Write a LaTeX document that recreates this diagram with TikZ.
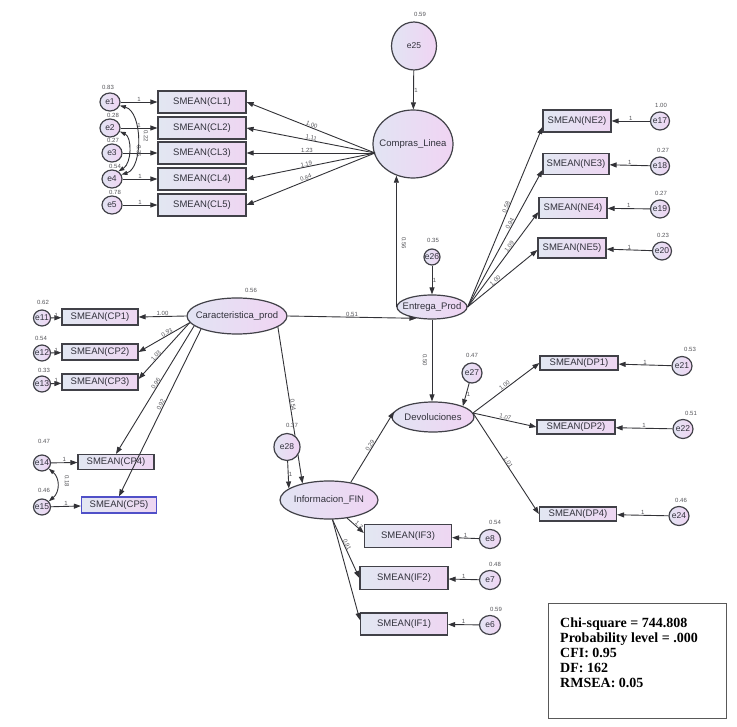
\documentclass[tikz,border=0pt]{standalone}
\usepackage{fontspec}
\setmainfont{Liberation Sans}
\newfontfamily\tnr{Liberation Serif}
\usetikzlibrary{arrows.meta,shapes.geometric,calc}
\definecolor{bord}{RGB}{65,65,72}
\definecolor{lineC}{RGB}{50,50,55}
\definecolor{boxL}{RGB}{226,231,242}
\definecolor{boxR}{RGB}{238,214,242}
\definecolor{latL}{RGB}{226,228,243}
\definecolor{latR}{RGB}{240,212,243}
\definecolor{txt}{RGB}{50,50,60}
\definecolor{labC}{RGB}{85,85,90}
\definecolor{blueB}{RGB}{80,80,200}
\begin{document}
\begin{tikzpicture}[x=1pt,y=-1pt,
  obs/.style={rectangle, draw=bord, line width=1.2pt, left color=boxL, right color=boxR, inner sep=1pt, text=txt, font=\fontsize{9.5}{10}\selectfont},
  lat/.style={ellipse, draw=bord, line width=1.2pt, left color=latL, right color=latR, inner sep=0pt},
  lt/.style={text=txt, font=\fontsize{9.5}{10}\selectfont, inner sep=0pt},
  err/.style={ellipse, draw=bord, line width=1.2pt, left color=latL, right color=latR, inner sep=0pt},
  et/.style={text=txt, font=\fontsize{8.5}{9}\selectfont, inner sep=0pt},
  arr/.style={draw=lineC, line width=0.9pt, -{Triangle[length=7pt,width=5pt]}},
  cov/.style={draw=lineC, line width=0.9pt, {Triangle[length=6pt,width=4pt]}-{Triangle[length=6pt,width=4pt]}},
  lab/.style={text=labC, font=\fontsize{6}{6}\selectfont, inner sep=0.3pt},
  stat/.style={anchor=base west, inner sep=0pt, font=\tnr\bfseries\fontsize{14}{15}\selectfont, text=black},
]
\fill[white] (0,0) rectangle (737,727);
\useasboundingbox (0,0) rectangle (737,727);

% ---------- Compras_Linea block ----------
\node[lat, minimum width=80pt, minimum height=68pt] (cl) at (413,144) {};
\node[lt] (clt) at (cl) {Compras\_Linea};
\node[err, minimum width=45pt, minimum height=48pt, label={[et]center:e25}] (e25) at (414,46) {};
\node[lab] (v25) at (420,14) {0.59};
\draw[arr] (e25) -- node[lab, right, pos=0.5] {1} (cl);

\foreach \i/\y in {1/102,2/128,3/153,4/179,5/205}{
  \node[obs, minimum width=88pt, minimum height=22pt] (cl\i) at (202,\y) {SMEAN(CL\i)};
}
\node[err, minimum width=20pt, minimum height=18pt, label={[et]center:e1}] (e1) at (110,102) {};
\node[err, minimum width=20pt, minimum height=18pt, label={[et]center:e2}] (e2) at (110,128) {};
\node[err, minimum width=20pt, minimum height=18pt, label={[et]center:e3}] (e3) at (112,153) {};
\node[err, minimum width=20pt, minimum height=18pt, label={[et]center:e4}] (e4) at (112,179) {};
\node[err, minimum width=20pt, minimum height=18pt, label={[et]center:e5}] (e5) at (112,205) {};
\node[lab] (v1) at (108,87) {0.83};
\node[lab] (v2) at (113,115) {0.28};
\node[lab] (v3) at (113,140) {0.27};
\node[lab] (v4) at (115,166) {0.54};
\node[lab] (v5) at (115,192) {0.78};
\draw[arr] (e1) -- node[lab, above] {1} (cl1);
\draw[arr] (e2) -- node[lab, above] {1} (cl2);
\draw[arr] (e3) -- (cl3);
\draw[arr] (e4) -- node[lab, above] {1} (cl4);
\draw[arr] (e5) -- node[lab, above] {1} (cl5);
\draw[cov] (e1.-20) .. controls (143,112) and (143,168) .. (e4.25);
\draw[cov] (e2.-20) .. controls (132,137) and (132,163) .. (e4.50);
\node[lab, rotate=-90] (c14) at (146,136) {0.22};
\node[lab, rotate=-90] (c24) at (139,151) {0.35};

\coordinate (clsrc) at (375,153);
\draw[arr] (clsrc) -- node[lab, sloped, above, pos=0.5] {1.00} (cl1.east);
\draw[arr] (clsrc) -- node[lab, sloped, above, pos=0.5] {1.11} (cl2.east);
\draw[arr] (clsrc) -- node[lab, sloped, above, pos=0.53] {1.23} (cl3.east);
\draw[arr] (clsrc) -- node[lab, sloped, above, pos=0.53] {1.19} (cl4.east);
\draw[arr] (clsrc) -- node[lab, sloped, above, pos=0.53] {0.84} (cl5.east);

% ---------- Entrega_Prod block ----------
\node[lat, minimum width=70pt, minimum height=24pt] (ep) at (432,307) {};
\node[lt] (ept) at (ep) {Entrega\_Prod};
\node[err, minimum width=16pt, minimum height=16pt, label={[et]center:e26}] (e26) at (432,257) {};
\node[lab] (v26) at (433,240) {0.35};
\draw[arr] (e26) -- node[lab, right, pos=0.5] {1} (ep);
\draw[arr] (ep.west) -- (ep.west |- cl.-117);
\node[lab, rotate=-90] (l56) at (404,243) {0.56};

\node[obs, minimum width=68pt, minimum height=22pt] (ne2) at (577,121) {SMEAN(NE2)};
\node[obs, minimum width=66pt, minimum height=21pt] (ne3) at (576,164) {SMEAN(NE3)};
\node[obs, minimum width=68pt, minimum height=21pt] (ne4) at (573,208) {SMEAN(NE4)};
\node[obs, minimum width=68pt, minimum height=20pt] (ne5) at (572,248) {SMEAN(NE5)};
\draw[arr] (ep.east) -- node[lab, sloped, above, pos=0.55] {0.58} ([yshift=-6pt]ne2.west);
\draw[arr] (ep.east) -- node[lab, sloped, above, pos=0.6] {0.94} ([yshift=-6pt]ne3.west);
\draw[arr] (ep.east) -- node[lab, sloped, above, pos=0.62] {1.09} ([yshift=-4pt]ne4.west);
\draw[arr] (ep.east) -- node[lab, sloped, above, pos=0.42] {1.00} ([yshift=-2pt]ne5.west);
\node[err, minimum width=19pt, minimum height=18pt, label={[et]center:e17}] (e17) at (660,121) {};
\node[err, minimum width=19pt, minimum height=18pt, label={[et]center:e18}] (e18) at (660,166) {};
\node[err, minimum width=19pt, minimum height=18pt, label={[et]center:e19}] (e19) at (660,209) {};
\node[err, minimum width=19pt, minimum height=18pt, label={[et]center:e20}] (e20) at (662,251) {};
\node[lab] (v17) at (661,105) {1.00};
\node[lab] (v18) at (663,150) {0.27};
\node[lab] (v19) at (661,193) {0.27};
\node[lab] (v20) at (663,235) {0.23};
\draw[arr] (e17) -- node[lab, above] {1} (ne2);
\draw[arr] (e18) -- node[lab, above] {1} (ne3);
\draw[arr] (e19) -- node[lab, above] {1} (ne4);
\draw[arr] (e20) -- node[lab, above] {1} (ne5);

% ---------- Caracteristica_prod block ----------
\node[lat, minimum width=100pt, minimum height=36pt] (cp) at (237,316) {};
\node[lt] (cpt) at (cp) {Caracteristica\_prod};
\node[lab] (vcp) at (251,290) {0.56};
\draw[arr] (cp.east) -- node[lab, above, pos=0.5] {0.51} (ep.-144);

\node[obs, minimum width=76pt, minimum height=16pt] (cp1) at (100,317) {SMEAN(CP1)};
\node[obs, minimum width=76pt, minimum height=16pt] (cp2) at (100,352) {SMEAN(CP2)};
\node[obs, minimum width=76pt, minimum height=16pt] (cp3) at (100,382) {SMEAN(CP3)};
\node[obs, minimum width=76pt, minimum height=15pt] (cp4) at (116,462) {SMEAN(CP4)};
\node[obs, draw=blueB, minimum width=75pt, minimum height=16pt] (cp5) at (119,505) {SMEAN(CP5)};
\draw[arr] (cp.west) -- node[lab, above, pos=0.5] {1.00} (cp1.east);
\draw[arr] (cp.-172) -- node[lab, sloped, above, pos=0.42] {0.93} (cp2.east);
\draw[arr] (cp.-172) -- node[lab, sloped, above, pos=0.62] {1.03} ([yshift=3pt]cp3.east);
\draw[arr] (cp.-167) -- node[lab, sloped, above, pos=0.46] {0.96} (cp4.north);
\draw[arr] (cp.-160) -- node[lab, sloped, above, pos=0.46] {0.92} (cp5.north);

\node[err, minimum width=17pt, minimum height=16pt, label={[et]center:e11}] (e11) at (42,318) {};
\node[err, minimum width=17pt, minimum height=16pt, label={[et]center:e12}] (e12) at (42,353) {};
\node[err, minimum width=17pt, minimum height=16pt, label={[et]center:e13}] (e13) at (42,384) {};
\node[err, minimum width=17pt, minimum height=16pt, label={[et]center:e14}] (e14) at (42,463) {};
\node[err, minimum width=17pt, minimum height=16pt, label={[et]center:e15}] (e15) at (42,507) {};
\node[lab] (v11) at (43,302) {0.62};
\node[lab] (v12) at (41,338) {0.54};
\node[lab] (v13) at (44,370) {0.33};
\node[lab] (v14) at (44,441) {0.47};
\node[lab] (v15) at (44,490) {0.46};
\draw[arr] (e11) -- node[lab, above] {1} (cp1);
\draw[arr] (e12) -- node[lab, above] {1} (cp2);
\draw[arr] (e13) -- node[lab, above] {1} (cp3);
\draw[arr] (e14) -- node[lab, above] {1} (cp4);
\draw[arr] (e15) -- node[lab, above] {1} (cp5);
\draw[cov] (e14.-40) .. controls (60,478) and (60,492) .. (e15.40);
\node[lab, rotate=-90] (c1415) at (67,481) {0.18};

% ---------- Informacion_FIN block ----------
\node[lat, minimum width=98pt, minimum height=38pt] (if) at (329,500) {};
\node[lt] (ift) at (if) {Informacion\_FIN};
\draw[arr] (cp.-15) -- node[lab, sloped, above, pos=0.5] {0.54} (if.148);
\node[err, minimum width=26pt, minimum height=27pt, label={[et]center:e28}] (e28) at (287,447) {};
\node[lab] (v28) at (292,425) {0.37};
\draw[arr] (e28) -- node[lab, right, pos=0.5] {1} (if.164);

\node[obs, minimum width=87pt, minimum height=23pt] (if3) at (408,536) {SMEAN(IF3)};
\node[obs, minimum width=88pt, minimum height=23pt] (if2) at (404,578) {SMEAN(IF2)};
\node[obs, minimum width=87pt, minimum height=22pt] (if1) at (404,624) {SMEAN(IF1)};
\draw[arr] (if.-45) -- node[lab, sloped, above, pos=0.6] {1.2} ([yshift=3pt]if3.west);
\draw[arr] (if.-80) -- node[lab, sloped, above, pos=0.45] {0.91} (if2.west);
\draw[arr] (if.-80) -- ([yshift=4pt]if1.west);
\node[err, minimum width=21pt, minimum height=19pt, label={[et]center:e8}] (e8) at (490,539) {};
\node[err, minimum width=21pt, minimum height=19pt, label={[et]center:e7}] (e7) at (490,580) {};
\node[err, minimum width=21pt, minimum height=19pt, label={[et]center:e6}] (e6) at (490,625) {};
\node[lab] (v8) at (495,522) {0.54};
\node[lab] (v7) at (495,564) {0.48};
\node[lab] (v6) at (496,609) {0.59};
\draw[arr] (e8) -- node[lab, above] {1} (if3);
\draw[arr] (e7) -- node[lab, above] {1} (if2);
\draw[arr] (e6) -- node[lab, above] {1} (if1);

% ---------- Devoluciones block ----------
\node[lat, minimum width=82pt, minimum height=30pt] (dv) at (433,417) {};
\node[lt] (dvt) at (dv) {Devoluciones};
\draw[arr] (ep.south) -- (ep.south |- dv.north);
\node[lab, rotate=-90] (l50) at (425,360) {0.50};
\draw[arr] (if.39) -- node[lab, sloped, above, pos=0.5] {0.29} (dv.172);
\node[err, minimum width=20pt, minimum height=20pt, label={[et]center:e27}] (e27) at (472,373) {};
\node[lab] (v27) at (472,355) {0.47};
\draw[arr] (e27) -- node[lab, right, pos=0.5] {1} (dv.20);

\node[obs, minimum width=78pt, minimum height=14pt] (dp1) at (579,363) {SMEAN(DP1)};
\node[obs, minimum width=78pt, minimum height=14pt] (dp2) at (576,427) {SMEAN(DP2)};
\node[obs, minimum width=77pt, minimum height=14pt] (dp4) at (578,514) {SMEAN(DP4)};
\coordinate (dvsrc) at (473,413);
\draw[arr] (dvsrc) -- node[lab, sloped, above, pos=0.5] {1.00} (dp1.west);
\draw[arr] (dvsrc) -- node[lab, sloped, above, pos=0.5] {1.07} (dp2.west);
\draw[arr] (dvsrc) -- node[lab, sloped, above, pos=0.5] {1.01} (dp4.west);
\node[err, minimum width=20pt, minimum height=19pt, label={[et]center:e21}] (e21) at (682,366) {};
\node[err, minimum width=20pt, minimum height=19pt, label={[et]center:e22}] (e22) at (683,429) {};
\node[err, minimum width=20pt, minimum height=19pt, label={[et]center:e24}] (e24) at (679,516) {};
\node[lab] (v21) at (690,349) {0.53};
\node[lab] (v22) at (691,413) {0.51};
\node[lab] (v24) at (681,500) {0.46};
\draw[arr] (e21) -- node[lab, above] {1} (dp1);
\draw[arr] (e22) -- node[lab, above] {1} (dp2);
\draw[arr] (e24) -- node[lab, above] {1} (dp4);

% ---------- fit statistics ----------
\node[draw=black!65, line width=1pt, minimum width=178pt, minimum height=115pt, inner sep=0pt] (fit) at (637,660.5) {};
\node[stat] (s1) at (560,627) {Chi-square = 744.808};
\node[stat] (s2) at (560,642) {Probability level = .000};
\node[stat] (s3) at (560,657) {CFI: 0.95};
\node[stat] (s4) at (560,672) {DF: 162};
\node[stat] (s5) at (560,687) {RMSEA: 0.05};
\end{tikzpicture}
\end{document}
